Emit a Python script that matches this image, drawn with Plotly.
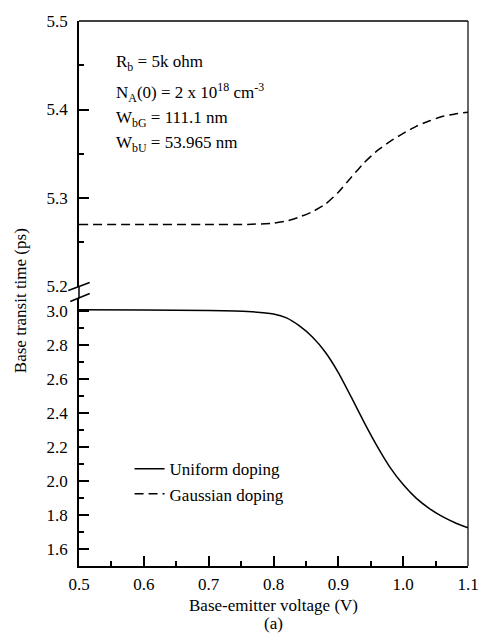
import plotly.graph_objects as go

# Data
vbe_uniform = [0.50, 0.60, 0.70, 0.76, 0.80, 0.82, 0.84, 0.86, 0.88, 0.90, 0.92, 0.94, 0.96, 0.98, 1.00, 1.02, 1.04, 1.06, 1.08, 1.10]
tau_uniform = [3.010, 3.008, 3.005, 3.000, 2.985, 2.962, 2.915, 2.850, 2.760, 2.640, 2.495, 2.345, 2.205, 2.080, 1.980, 1.900, 1.840, 1.792, 1.755, 1.725]

vbe_gauss = [0.50, 0.60, 0.70, 0.76, 0.80, 0.82, 0.84, 0.86, 0.88, 0.90, 0.92, 0.94, 0.96, 0.98, 1.00, 1.02, 1.04, 1.06, 1.08, 1.10]
tau_gauss = [5.270, 5.270, 5.270, 5.2702, 5.2715, 5.2740, 5.2785, 5.2845, 5.2930, 5.3065, 5.3235, 5.3400, 5.3535, 5.3640, 5.3730, 5.3810, 5.3870, 5.3920, 5.3950, 5.3970]

x_ticks = [0.5, 0.6, 0.7, 0.8, 0.9, 1.0, 1.1]
x_ticklabels = ["0.5", "0.6", "0.7", "0.8", "0.9", "1.0", "1.1"]
y_low_ticks = [1.6, 1.8, 2.0, 2.2, 2.4, 2.6, 2.8, 3.0]
y_high_ticks = [5.2, 5.3, 5.4, 5.5]

info_lines = [
    "R<sub>b</sub> = 5k ohm",
    "N<sub>A</sub>(0) = 2 x 10<sup>18</sup> cm<sup>-3</sup>",
    "W<sub>bG</sub> = 111.1 nm",
    "W<sub>bU</sub> = 53.965 nm",
]

FONT = "Liberation Serif"
W, H = 491, 635
ML, MR, MT, MB = 79, 12, 20, 69
plot_h = H - MT - MB
pw = W - ML - MR

def ypix_to_paper(py):
    return (H - MB - py) / plot_h

def xp(px):
    return (px - ML) / pw

fig = go.Figure()
fig.add_trace(go.Scatter(x=vbe_uniform, y=tau_uniform, mode="lines", name="Uniform doping",
                         line=dict(color="black", width=1.5, shape="spline", smoothing=0.5),
                         xaxis="x", yaxis="y"))
fig.add_trace(go.Scatter(x=vbe_gauss, y=tau_gauss, mode="lines", name="Gaussian doping",
                         line=dict(color="black", width=1.5, dash="9px,5px", shape="spline", smoothing=0.5),
                         xaxis="x", yaxis="y2"))

low_top = ypix_to_paper(298)
high_bot = ypix_to_paper(286)

tickfont = dict(family=FONT, size=17, color="black")

fig.update_layout(
    width=W, height=H,
    margin=dict(l=ML, r=MR, t=MT, b=MB),
    paper_bgcolor="white", plot_bgcolor="white",
    font=dict(family=FONT, size=17, color="black"),
    showlegend=True,
    legend=dict(x=xp(131), y=ypix_to_paper(451), xanchor="left", yanchor="top",
                bgcolor="rgba(0,0,0,0)", font=dict(family=FONT, size=17, color="black"),
                tracegroupgap=0),
    xaxis=dict(range=[0.5, 1.1], tickvals=x_ticks, ticktext=x_ticklabels,
               ticks="inside", ticklen=10, tickwidth=1.5, tickcolor="black",
               minor=dict(dtick=0.05, ticks="inside", ticklen=5, tickwidth=1.5, tickcolor="black"),
               showline=True, linecolor="black", linewidth=1.5, showgrid=False, zeroline=False,
               tickfont=tickfont, anchor="y", ticklabelstandoff=2),
    yaxis=dict(domain=[0, low_top], range=[1.5, 1.5 + (566 - 298) / 170.0],
               tickvals=y_low_ticks, ticktext=[f"{v:.1f}" for v in y_low_ticks],
               ticks="inside", ticklen=10, tickwidth=1.5, tickcolor="black",
               minor=dict(dtick=0.1, ticks="inside", ticklen=5, tickwidth=1.5, tickcolor="black"),
               showline=True, linecolor="black", linewidth=1.5, showgrid=False, zeroline=False,
               tickfont=tickfont, anchor="x", ticklabelstandoff=6),
    yaxis2=dict(domain=[high_bot, 1], range=[5.2, 5.5],
                tickvals=y_high_ticks, ticktext=[f"{v:.1f}" for v in y_high_ticks],
                ticks="inside", ticklen=10, tickwidth=1.5, tickcolor="black",
                minor=dict(dtick=0.05, ticks="inside", ticklen=5, tickwidth=1.5, tickcolor="black"),
                showline=True, linecolor="black", linewidth=1.5, showgrid=False, zeroline=False,
                tickfont=tickfont, anchor="x", ticklabelstandoff=6),
)

# frame: top and right edges, and left line through the break
fig.add_shape(type="line", xref="paper", yref="paper", x0=0, x1=1, y0=1, y1=1,
              line=dict(color="black", width=1.5))
fig.add_shape(type="line", xref="paper", yref="paper", x0=1, x1=1, y0=0, y1=1,
              line=dict(color="black", width=1.2))
fig.add_shape(type="line", xref="paper", yref="paper", x0=0, x1=0, y0=low_top, y1=high_bot,
              line=dict(color="black", width=1.5))

# axis break marks
fig.add_shape(type="line", xref="paper", yref="paper", x0=xp(68), x1=xp(90),
              y0=ypix_to_paper(290), y1=ypix_to_paper(282), line=dict(color="black", width=1.5))
fig.add_shape(type="line", xref="paper", yref="paper", x0=xp(70), x1=xp(90),
              y0=ypix_to_paper(301), y1=ypix_to_paper(293), line=dict(color="black", width=1.5))

# info text
for t, py in zip(info_lines, [62, 92, 118, 143]):
    fig.add_annotation(text=t, xref="paper", yref="paper", x=xp(115), y=ypix_to_paper(py),
                       xanchor="left", yanchor="middle", showarrow=False,
                       font=dict(family=FONT, size=17, color="black"))

# axis titles
fig.add_annotation(text="Base transit time (ps)", xref="paper", yref="paper",
                   x=xp(19), y=ypix_to_paper(300), textangle=-90, showarrow=False,
                   xanchor="center", yanchor="middle", font=dict(family=FONT, size=17, color="black"))
fig.add_annotation(text="Base-emitter voltage (V)", xref="paper", yref="paper",
                   x=xp(279), y=ypix_to_paper(606), showarrow=False,
                   xanchor="center", yanchor="middle", font=dict(family=FONT, size=17, color="black"))
fig.add_annotation(text="(a)", xref="paper", yref="paper",
                   x=xp(279), y=ypix_to_paper(624), showarrow=False,
                   xanchor="center", yanchor="middle", font=dict(family=FONT, size=17, color="black"))

fig.write_html("out.html")
